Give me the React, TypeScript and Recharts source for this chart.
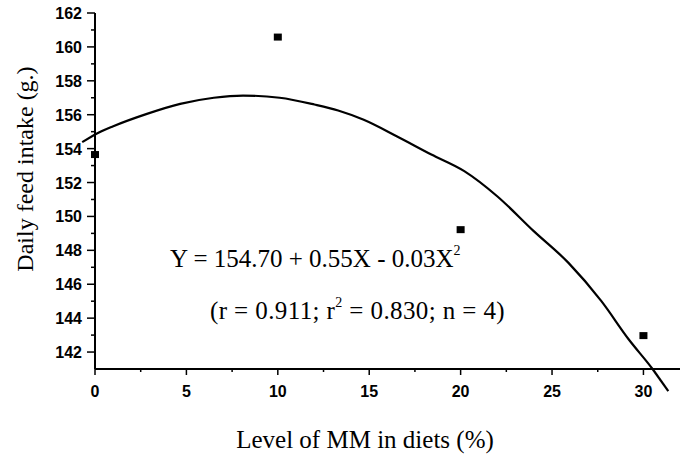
import React from "react";
import { ComposedChart, Line, Scatter, XAxis, YAxis, Customized, ReferenceLine } from "recharts";

// Observed means (level of MM in diet, %) -> daily feed intake (g)
const mmLevels = [0, 10, 20, 30];
const feedIntake = [153.65, 160.58, 149.22, 142.97];

// Fitted quadratic curve as drawn in the figure
const curveLevels = [-0.7, 0, 1, 2.84, 4.66, 6.5, 8.1, 10.1, 12, 13.3, 14.7, 16.5, 18.4, 20.2, 22, 24, 25.9, 27.7, 29.2, 30.5, 31.36];
const curveIntake = [154.38, 154.83, 155.32, 156.05, 156.64, 157.0, 157.13, 157.0, 156.6, 156.25, 155.7, 154.73, 153.65, 152.67, 151.19, 149.13, 147.26, 145.0, 142.74, 141.0, 139.69];

const xTicks = [0, 2.5, 5, 7.5, 10, 12.5, 15, 17.5, 20, 22.5, 25, 27.5, 30];
const yTicks = [142, 143, 144, 145, 146, 147, 148, 149, 150, 151, 152, 153, 154, 155, 156, 157, 158, 159, 160, 161, 162];
const xDomain = [0, 32];
const yDomain = [141, 162];

const xLabel = "Level of MM in diets (%)";
const yLabel = "Daily feed intake (g.)";

const points = mmLevels.map((x, i) => ({ x, y: feedIntake[i] }));
const curve = curveLevels.map((x, i) => ({ x, y: curveIntake[i] }));
const nC = curve.length;
// the curve runs slightly past both axes in the figure
const headSegment = [curve[0], curve[1]];
const tailSegment = [curve[nC - 2], curve[nC - 1]];

const SANS = "'Liberation Sans', Arial, sans-serif";
const SERIF = "'Liberation Serif', 'Times New Roman', serif";

const XTick = (props: any) => {
  const { x, y, payload } = props;
  const v = payload.value as number;
  const major = v % 5 === 0;
  return (
    <g>
      <line x1={x} x2={x} y1={y} y2={y + (major ? 6 : 3)} stroke="#000" strokeWidth={1.5} />
      {major && (
        <text x={x} y={y + 28} textAnchor="middle" fontFamily={SANS} fontWeight="bold" fontSize={16} fill="#000">
          {v}
        </text>
      )}
    </g>
  );
};

const YTick = (props: any) => {
  const { x, y, payload } = props;
  const v = payload.value as number;
  const major = v % 2 === 0;
  return (
    <g>
      <line x1={x - (major ? 8 : 4)} x2={x} y1={y} y2={y} stroke="#000" strokeWidth={1.5} />
      {major && (
        <text x={x - 13} y={y + 6} textAnchor="end" fontFamily={SANS} fontWeight="bold" fontSize={16} fill="#000">
          {v}
        </text>
      )}
    </g>
  );
};

const Square = (props: any) => {
  const { cx, cy } = props;
  return <rect x={cx - 4} y={cy - 3.5} width={8} height={7} fill="#000" />;
};

const Annotations = () => (
  <g fill="#000">
    <text x={170} y={267} fontFamily={SERIF} fontSize={25}>
      Y = 154.70 + 0.55X - 0.03X
      <tspan fontSize={14} dy={-12}>2</tspan>
    </text>
    <text x={210} y={319} fontFamily={SERIF} fontSize={25} letterSpacing={0.4}>
      (r = 0.911; r<tspan fontSize={14} dy={-12}>2</tspan>
      <tspan dy={12}> = 0.830; n = 4)</tspan>
    </text>
    <text x={365} y={448} textAnchor="middle" fontFamily={SERIF} fontSize={25}>
      {xLabel}
    </text>
    <text x={33} y={169} textAnchor="middle" fontFamily={SERIF} fontSize={24} transform="rotate(-90 33 169)">
      {yLabel}
    </text>
  </g>
);

export default function App() {
  return (
    <div style={{ position: "absolute", left: 0, top: 0, background: "#fff" }}>
      <ComposedChart width={680} height={459} margin={{ top: 13, right: 0, bottom: 0, left: 0 }}>
        <XAxis
          type="number"
          dataKey="x"
          domain={xDomain}
          allowDataOverflow
          ticks={xTicks}
          interval={0}
          height={90}
          tickSize={0}
          tickMargin={0}
          tickLine={false}
          tick={<XTick />}
          axisLine={{ stroke: "#000", strokeWidth: 2 }}
        />
        <YAxis
          type="number"
          dataKey="y"
          domain={yDomain}
          allowDataOverflow
          ticks={yTicks}
          interval={0}
          width={95}
          tickSize={0}
          tickMargin={0}
          tickLine={false}
          tick={<YTick />}
          axisLine={{ stroke: "#000", strokeWidth: 2 }}
        />
        {/* same scales, no clipping, for the observed points */}
        <XAxis xAxisId="pts" type="number" dataKey="x" domain={xDomain} hide />
        <YAxis yAxisId="pts" type="number" dataKey="y" domain={yDomain} hide />
        <Line
          data={curve}
          dataKey="y"
          type="monotone"
          stroke="#000"
          strokeWidth={2.2}
          dot={false}
          activeDot={false}
          isAnimationActive={false}
        />
        <ReferenceLine segment={headSegment} ifOverflow="visible" stroke="#000" strokeWidth={2.2} />
        <ReferenceLine segment={tailSegment} ifOverflow="visible" stroke="#000" strokeWidth={2.2} />
        <Scatter
          data={points}
          dataKey="y"
          xAxisId="pts"
          yAxisId="pts"
          shape={<Square />}
          isAnimationActive={false}
        />
        <Customized component={Annotations} />
      </ComposedChart>
    </div>
  );
}
